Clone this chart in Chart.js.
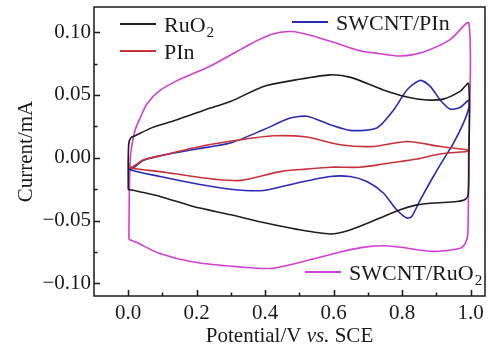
<!DOCTYPE html>
<html>
<head>
<meta charset="utf-8">
<script src="https://cdn.jsdelivr.net/npm/chart.js@4.4.1/dist/chart.umd.min.js"></script>
<style>
  html, body { margin: 0; padding: 0; background: #fff; }
</style>
</head>
<body>
<canvas id="chart" width="488" height="351"></canvas>
<script>
// cyclic voltammetry loops, potential (V vs SCE) -> current (mA)
const ruo2X = [0.0, 0.0, 0.002, 0.008, 0.02, 0.07, 0.14, 0.24, 0.30, 0.395, 0.49, 0.59, 0.65, 0.745, 0.814, 0.872, 0.92, 0.969, 0.994, 0.995, 0.993, 0.985, 0.96, 0.891, 0.843, 0.794, 0.726, 0.648, 0.59, 0.49, 0.395, 0.30, 0.19, 0.093, 0.006, 0.0]
const ruo2Y = [-0.0255, 0.0, 0.012, 0.016, 0.0175, 0.024, 0.030, 0.0396, 0.0449, 0.0568, 0.062, 0.066, 0.064, 0.054, 0.0484, 0.046, 0.0467, 0.0528, 0.059, 0.0, -0.029, -0.033, -0.0348, -0.036, -0.0375, -0.0414, -0.049, -0.0574, -0.0606, -0.0568, -0.0515, -0.0454, -0.0388, -0.0308, -0.0255, -0.0255]

const pinX = [0.0, 0.006, 0.045, 0.1, 0.21, 0.327, 0.424, 0.522, 0.619, 0.716, 0.814, 0.911, 0.989, 0.994, 0.989, 0.94, 0.891, 0.843, 0.794, 0.745, 0.677, 0.59, 0.52, 0.444, 0.327, 0.25, 0.19, 0.093, 0.006, 0.0]
const pinY = [-0.004, -0.008, -0.0016, 0.002, 0.009, 0.0143, 0.0175, 0.0165, 0.0104, 0.009, 0.013, 0.009, 0.0064, 0.006, 0.005, 0.004, 0.002, -0.001, -0.003, -0.005, -0.0075, -0.0075, -0.009, -0.011, -0.018, -0.017, -0.0149, -0.011, -0.008, -0.004]

const swPinX = [0.0, 0.006, 0.045, 0.1, 0.2, 0.298, 0.395, 0.473, 0.522, 0.59, 0.648, 0.726, 0.775, 0.814, 0.853, 0.882, 0.911, 0.94, 0.969, 0.994, 0.995, 0.979, 0.95, 0.92, 0.891, 0.853, 0.828, 0.814, 0.784, 0.745, 0.697, 0.648, 0.59, 0.49, 0.395, 0.30, 0.19, 0.093, 0.006, 0.0]
const swPinY = [-0.006, -0.0096, -0.002, 0.002, 0.007, 0.0117, 0.0223, 0.0316, 0.033, 0.0263, 0.0218, 0.0237, 0.038, 0.054, 0.0616, 0.0568, 0.046, 0.0388, 0.040, 0.0457, 0.04, 0.0276, 0.0117, -0.0016, -0.0149, -0.0335, -0.0467, -0.048, -0.0414, -0.028, -0.0189, -0.0149, -0.0149, -0.0202, -0.026, -0.025, -0.0202, -0.0149, -0.0096, -0.006]

const swRuo2X = [0.002, 0.003, 0.006, 0.012, 0.02, 0.035, 0.055, 0.09, 0.14, 0.24, 0.32, 0.36, 0.415, 0.478, 0.54, 0.61, 0.68, 0.73, 0.795, 0.86, 0.94, 0.995, 0.994, 0.992, 0.985, 0.97, 0.89, 0.79, 0.74, 0.68, 0.62, 0.52, 0.42, 0.33, 0.19, 0.09, 0.025, 0.002]
const swRuo2Y = [-0.065, -0.03, 0.0, 0.012, 0.022, 0.032, 0.043, 0.053, 0.061, 0.073, 0.085, 0.091, 0.098, 0.1005, 0.097, 0.091, 0.085, 0.083, 0.081, 0.084, 0.094, 0.107, 0.0, -0.06, -0.068, -0.072, -0.0745, -0.071, -0.070, -0.0715, -0.075, -0.082, -0.088, -0.087, -0.083, -0.076, -0.0675, -0.065]

const xMajorTicks = [0, 0.2, 0.4, 0.6, 0.8, 1.0]
const xMinorTicks = [0.1, 0.3, 0.5, 0.7, 0.9]
const yMajorTicks = [-0.1, -0.05, 0, 0.05, 0.1]
const yMinorTicks = [-0.075, -0.025, 0.025, 0.075]

const SERIF = '"Liberation Serif", "Times New Roman", serif'
const INK = '#1a1a1a'

function pts(xs, ys) {
  return xs.map((x, i) => ({ x: x, y: ys[i] }))
}

function minus(str) {
  return str.replace('-', '\u2212')
}

// box around the plot with inward ticks on the bottom and left
const frame = {
  id: 'frame',
  afterDatasetsDraw(chart) {
    const { ctx, chartArea: a, scales: { x, y } } = chart
    ctx.save()
    ctx.strokeStyle = INK
    ctx.lineWidth = 1.5
    ctx.strokeRect(a.left, a.top, a.right - a.left, a.bottom - a.top)
    ctx.beginPath()
    const tick = (vals, len, horiz) => vals.forEach((v) => {
      if (horiz) {
        const p = Math.round(x.getPixelForValue(v)) + 0.5
        ctx.moveTo(p, a.bottom)
        ctx.lineTo(p, a.bottom - len)
      } else {
        const p = Math.round(y.getPixelForValue(v)) + 0.5
        ctx.moveTo(a.left, p)
        ctx.lineTo(a.left + len, p)
      }
    })
    tick(xMajorTicks, 6, true)
    tick(xMinorTicks, 3.5, true)
    tick(yMajorTicks, 6, false)
    tick(yMinorTicks, 3.5, false)
    ctx.stroke()

    // x title with italic "vs."
    const parts = [['Potential/V ', ''], ['vs.', 'italic '], [' SCE', '']]
    let w = 0
    parts.forEach((p) => { ctx.font = p[1] + '21px ' + SERIF; w += ctx.measureText(p[0]).width })
    let cx = (a.left + a.right) / 2 - w / 2
    ctx.fillStyle = INK
    ctx.textBaseline = 'alphabetic'
    parts.forEach((p) => {
      ctx.font = p[1] + '21px ' + SERIF
      ctx.fillText(p[0], cx, 342)
      cx += ctx.measureText(p[0]).width
    })
    ctx.restore()
  },
}

// legend entries scattered in the corners of the plot, subscripts drawn by hand
const legendSpots = [
  { ds: 0, text: 'RuO', sub: '2', x: 120, y: 24 },
  { ds: 1, text: 'PIn', sub: '', x: 120, y: 51 },
  { ds: 2, text: 'SWCNT/PIn', sub: '', x: 292, y: 22 },
  { ds: 3, text: 'SWCNT/RuO', sub: '2', x: 305, y: 272 },
]
const cornerLegend = {
  id: 'cornerLegend',
  afterDraw(chart) {
    const ctx = chart.ctx
    ctx.save()
    legendSpots.forEach((s) => {
      const ds = chart.data.datasets[s.ds]
      ctx.strokeStyle = ds.borderColor
      ctx.lineWidth = 2
      ctx.beginPath()
      ctx.moveTo(s.x, s.y)
      ctx.lineTo(s.x + 36, s.y)
      ctx.stroke()
      ctx.fillStyle = INK
      ctx.textBaseline = 'alphabetic'
      ctx.font = '22px ' + SERIF
      const tx = s.x + 44
      ctx.fillText(s.text, tx, s.y + 8)
      if (s.sub) {
        const tw = ctx.measureText(s.text).width
        ctx.font = '15px ' + SERIF
        ctx.fillText(s.sub, tx + tw + 1, s.y + 13)
      }
    })
    ctx.restore()
  },
}

const lineStyle = { showLine: true, pointRadius: 0, borderWidth: 1.6, tension: 0.25, fill: false }

new Chart(document.getElementById('chart'), {
  type: 'scatter',
  data: {
    datasets: [
      { label: 'RuO2', data: pts(ruo2X, ruo2Y), borderColor: '#1e1e1e', ...lineStyle },
      { label: 'PIn', data: pts(pinX, pinY), borderColor: '#c8323c', ...lineStyle },
      { label: 'SWCNT/PIn', data: pts(swPinX, swPinY), borderColor: '#2a2ab4', ...lineStyle },
      { label: 'SWCNT/RuO2', data: pts(swRuo2X, swRuo2Y), borderColor: '#d040d0', ...lineStyle },
    ],
  },
  options: {
    responsive: false,
    animation: false,
    layout: { padding: { left: 0, right: 3, top: 7, bottom: 0 } },
    plugins: {
      legend: { display: false },
      tooltip: { enabled: false },
    },
    scales: {
      x: {
        type: 'linear',
        min: -0.1,
        max: 1.042,
        grid: { display: false, drawTicks: false },
        border: { display: false },
        afterBuildTicks: (s) => { s.ticks = xMajorTicks.map((v) => ({ value: v })) },
        afterFit: (s) => {
          s.height = 55
          s.paddingLeft = 0
          s.paddingRight = 0
        },
        ticks: {
          padding: 5,
          maxRotation: 0,
          color: INK,
          font: { family: SERIF, size: 21 },
          callback: (v) => v.toFixed(1),
        },
      },
      y: {
        type: 'linear',
        min: -0.11,
        max: 0.12,
        grid: { display: false, drawTicks: false },
        border: { display: false },
        afterBuildTicks: (s) => { s.ticks = yMajorTicks.map((v) => ({ value: v })) },
        afterFit: (s) => {
          s.width = 94
          s.paddingTop = 0
          s.paddingBottom = 0
        },
        ticks: {
          padding: 3,
          color: INK,
          font: { family: SERIF, size: 21 },
          callback: (v) => minus(v.toFixed(2)),
        },
        title: {
          display: true,
          text: 'Current/mA',
          color: INK,
          font: { family: SERIF, size: 21 },
          padding: { top: 14, bottom: 0 },
        },
      },
    },
  },
  plugins: [frame, cornerLegend],
})
</script>
</body>
</html>
